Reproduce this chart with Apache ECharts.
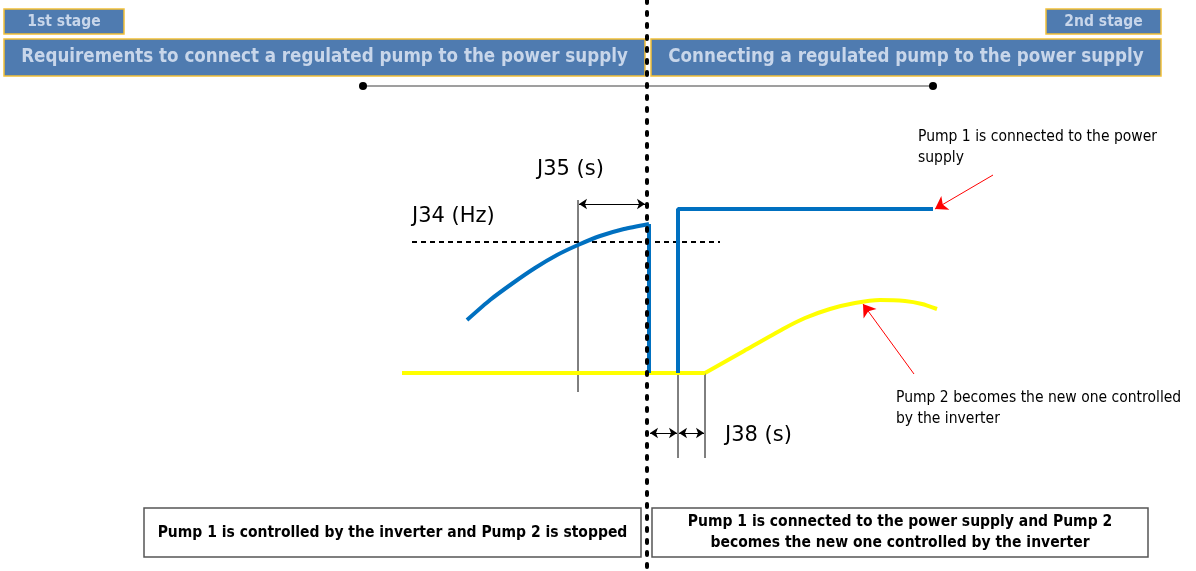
<!DOCTYPE html>
<html>
<head>
<meta charset="utf-8">
<script src="https://cdn.jsdelivr.net/npm/echarts@6/dist/echarts.min.js"></script>
<style>
  html, body { margin: 0; padding: 0; background: #fff; }
  #chart { width: 1196px; height: 571px; }
</style>
</head>
<body>
<div id="chart"></div>
<script>
// diagram drawn on a pixel-like value grid (x: 0..1196, y: 0..571 top-down)
const pump1Ramp = [[467, 320], [490, 300], [513, 283], [535, 268], [557, 255], [578, 245], [600, 236], [624, 229], [649, 224]];
const pump1Drop = [[649, 224], [649, 373]];
const pump1Mains = [[678, 373], [678, 209], [933, 209]];
const pump2Flat = [[402, 373], [705, 373]];
const pump2Ramp = [[705, 373], [744, 351], [783, 329], [805, 318], [830, 309], [855, 303], [880, 300], [905, 301], [922, 304], [937, 309]];
const stageDivider = [[647, 0], [647, 571]];
const j34Level = [[412, 242], [720, 242]];
const timeline = [[363, 86], [933, 86]];
const guideLines = [
  [[578, 200], [578, 392]],
  [[678, 373], [678, 458]],
  [[705, 373], [705, 458]]
];
const dimArrows = [
  [[579, 204], [645, 204]],
  [[650, 433], [677, 433]],
  [[679, 433], [704, 433]]
];
const redArrows = [
  [[993, 175], [935, 209]],
  [[914, 374], [863, 304]]
];
const headerBoxes = [
  [4, 9, 124, 34, '1st stage', 15.5],
  [1046, 9, 1161, 34, '2nd stage', 15.5],
  [4, 39, 645, 76, 'Requirements to connect a regulated pump to the power supply', 18.6],
  [651, 39, 1161, 76, 'Connecting a regulated pump to the power supply', 18.6]
];
const stateBoxes = [
  [144, 508, 641, 557, 'Pump 1 is controlled by the inverter and Pump 2 is stopped'],
  [652, 508, 1148, 557, 'Pump 1 is connected to the power supply and Pump 2\nbecomes the new one controlled by the inverter']
];
const paramLabels = [
  [537, 170, 'J35 (s)'],
  [412, 217, 'J34 (Hz)'],
  [725, 436, 'J38 (s)']
];
const noteLabels = [
  [918, 147, 'Pump 1 is connected to the power\nsupply'],
  [896, 408, 'Pump 2 becomes the new one controlled\nby the inverter']
];

const chart = echarts.init(document.getElementById('chart'));

function lineSeries(data, color, width, extra) {
  return Object.assign({
    type: 'line',
    data: data,
    showSymbol: false,
    symbol: 'none',
    silent: true,
    animation: false,
    lineStyle: { color: color, width: width }
  }, extra || {});
}

function boxSeries(rows, fill, stroke, textFill, fontFn) {
  return {
    type: 'custom',
    silent: true,
    data: rows,
    renderItem: function (params, api) {
      const p1 = api.coord([api.value(0), api.value(1)]);
      const p2 = api.coord([api.value(2), api.value(3)]);
      const d = rows[params.dataIndex];
      return {
        type: 'rect',
        shape: { x: p1[0], y: p1[1], width: p2[0] - p1[0], height: p2[1] - p1[1] },
        style: { fill: fill, stroke: stroke, lineWidth: 1.5 },
        textContent: {
          style: {
            text: d[4],
            fill: textFill,
            align: 'center',
            lineHeight: 21,
            font: fontFn(d)
          }
        },
        textConfig: { position: 'inside' }
      };
    }
  };
}

function textSeries(rows, font) {
  return {
    type: 'custom',
    silent: true,
    data: rows,
    renderItem: function (params, api) {
      const p = api.coord([api.value(0), api.value(1)]);
      return {
        type: 'text',
        x: p[0], y: p[1],
        style: {
          text: rows[params.dataIndex][2],
          fill: '#000',
          verticalAlign: 'middle',
          lineHeight: 21,
          font: font
        }
      };
    }
  };
}

const option = {
  animation: false,
  grid: { left: 0, right: 0, top: 0, bottom: 0 },
  xAxis: { type: 'value', min: 0, max: 1196, show: false },
  yAxis: { type: 'value', min: 0, max: 571, inverse: true, show: false },
  series: [
    boxSeries(headerBoxes, '#4f7bb0', '#f2c037', '#c8d6ea',
      d => 'bold ' + d[5] + 'px "DejaVu Sans Condensed", "DejaVu Sans"'),
    boxSeries(stateBoxes, '#fff', '#555', '#000',
      () => 'bold 15.5px "DejaVu Sans Condensed", "DejaVu Sans"'),
    // timeline
    lineSeries(timeline, '#7f7f7f', 1.5, { showSymbol: true, symbol: 'circle', symbolSize: 8, itemStyle: { color: '#000' } }),
    // J34 threshold
    lineSeries(j34Level, '#000', 2, { lineStyle: { color: '#000', width: 2, type: [5, 4] } }),
    // thin guides
    ...guideLines.map(g => lineSeries(g, '#000', 1)),
    // pump 2 (yellow)
    lineSeries(pump2Flat, '#ffff00', 4),
    lineSeries(pump2Ramp, '#ffff00', 4, { smooth: 0.2 }),
    // pump 1 (blue)
    lineSeries(pump1Ramp, '#0070c0', 4, { smooth: 0.2 }),
    lineSeries(pump1Drop, '#0070c0', 4),
    lineSeries(pump1Mains, '#0070c0', 4),
    // stage divider
    lineSeries(stageDivider, '#000', 4, { lineStyle: { color: '#000', width: 4, type: [3, 9], cap: 'round' } }),
    // dimension arrows
    {
      type: 'lines',
      coordinateSystem: 'cartesian2d',
      silent: true,
      symbol: ['arrow', 'arrow'],
      symbolSize: 8,
      lineStyle: { color: '#000', width: 1, opacity: 1 },
      data: dimArrows.map(c => ({ coords: c }))
    },
    // red pointer arrows
    {
      type: 'lines',
      coordinateSystem: 'cartesian2d',
      silent: true,
      symbol: ['none', 'arrow'],
      symbolSize: 12,
      lineStyle: { color: '#ff0000', width: 1, opacity: 1 },
      data: redArrows.map(c => ({ coords: c }))
    },
    textSeries(paramLabels, '21px "DejaVu Sans"'),
    textSeries(noteLabels, '15.5px "DejaVu Sans Condensed", "DejaVu Sans"')
  ]
};

chart.setOption(option);
</script>
</body>
</html>
